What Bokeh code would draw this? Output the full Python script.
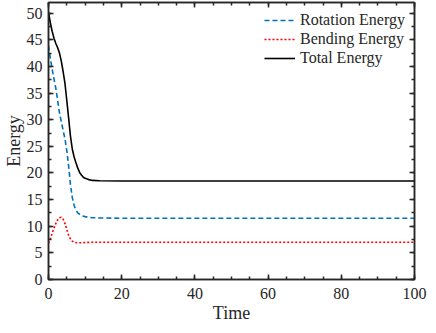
from bokeh.plotting import figure
from bokeh.models import FixedTicker, LinearAxis, Range1d
from bokeh.embed import file_html
from bokeh.resources import INLINE

# ---- data ----
t_rot = [0, 0.5, 1, 1.5, 2, 2.5, 3, 3.5, 4, 4.5, 5, 5.5, 6, 6.5, 7, 7.5, 8, 9, 10, 11, 12, 14, 20, 40, 60, 80, 100]
rotation = [43.9, 41.5, 39.5, 37.6, 35.9, 33.6, 31.3, 29.6, 28.0, 26.4, 24.2, 21.3, 17.8, 15.4, 13.9, 13.0, 12.5, 12.0, 11.8, 11.65, 11.6, 11.55, 11.5, 11.5, 11.5, 11.5, 11.5]

t_bend = [0, 0.5, 1, 1.5, 2, 2.5, 3, 3.5, 4, 4.5, 5, 5.5, 6, 6.5, 7, 8, 9, 10, 12, 20, 40, 60, 80, 100]
bending = [6.8, 7.6, 8.7, 9.6, 10.5, 11.2, 11.6, 11.7, 11.3, 10.5, 9.4, 8.3, 7.6, 7.2, 6.95, 6.9, 6.9, 6.95, 7.0, 7.0, 7.0, 7.0, 7.0, 7.0]

t_tot = [0, 0.5, 1, 1.5, 2, 2.5, 3, 3.5, 4, 4.5, 5, 5.5, 6, 6.5, 7, 7.5, 8, 8.5, 9, 9.5, 10, 11, 12, 14, 20, 40, 60, 80, 100]
total = [50.2, 48.2, 46.6, 45.3, 44.3, 43.5, 42.5, 41.0, 39.0, 36.8, 33.6, 30.3, 26.9, 24.5, 23.0, 21.9, 20.9, 20.1, 19.6, 19.2, 19.0, 18.75, 18.6, 18.55, 18.5, 18.5, 18.5, 18.5, 18.5]

x_major = [0, 20, 40, 60, 80, 100]
x_minor = list(range(0, 101, 5))
y_major = list(range(0, 51, 5))
y_minor = [i * 2.5 for i in range(21)]

FONT = "Liberation Serif"
AX = "#262626"

p = figure(width=428, height=325, x_range=Range1d(0, 100), y_range=Range1d(0, 52),
           output_backend="svg", toolbar_location=None,
           min_border_left=0, min_border_right=14, min_border_top=2, min_border_bottom=44,
           x_axis_label="Time", y_axis_label="Energy")
p.xgrid.grid_line_color = None
p.ygrid.grid_line_color = None
p.outline_line_color = AX
p.outline_line_width = 1.5
p.background_fill_color = "white"

p.line(t_rot, rotation, line_color="#0072BD", line_width=1.6, line_dash="5 3", legend_label="Rotation Energy")
p.line(t_bend, bending, line_color="#FF0000", line_width=1.6, line_dash="2 2", legend_label="Bending Energy")
p.line(t_tot, total, line_color="black", line_width=1.6, legend_label="Total Energy")

xt = FixedTicker(ticks=x_major, minor_ticks=x_minor)
yt = FixedTicker(ticks=y_major, minor_ticks=y_minor)

bottom = p.below[0]
left = p.left[0]
bottom.ticker = xt
left.ticker = yt
top = LinearAxis(ticker=xt, major_label_standoff=0,
                 major_label_overrides={v: "" for v in x_major})
right = LinearAxis(ticker=yt, major_label_standoff=0,
                   major_label_overrides={v: "" for v in y_major})
p.add_layout(top, "above")
p.add_layout(right, "right")

for ax in (bottom, left, top, right):
    ax.axis_line_color = AX
    ax.axis_line_width = 1.5
    ax.major_tick_line_color = AX
    ax.minor_tick_line_color = AX
    ax.major_tick_line_width = 1.5
    ax.minor_tick_line_width = 1.5
    ax.major_tick_in = 5
    ax.major_tick_out = 0
    ax.minor_tick_in = 3
    ax.minor_tick_out = 0
    ax.major_label_text_font = FONT
    ax.major_label_text_color = AX
    ax.major_label_text_font_size = "16px"

top.major_label_text_font_size = "1px"
right.major_label_text_font_size = "1px"

bottom.major_label_standoff = 8
bottom.axis_label_text_font = FONT
bottom.axis_label_text_font_size = "18px"
bottom.axis_label_text_font_style = "normal"
bottom.axis_label_text_color = AX
bottom.axis_label_standoff = 1

left.major_label_standoff = 6
left.axis_label_text_font = FONT
left.axis_label_text_font_size = "18px"
left.axis_label_text_font_style = "normal"
left.axis_label_text_color = AX
left.axis_label_standoff = 0

lg = p.legend[0]
lg.location = "top_right"
lg.border_line_color = None
lg.background_fill_alpha = 0
lg.label_text_font = FONT
lg.label_text_font_size = "16px"
lg.label_text_color = AX
lg.glyph_width = 31
lg.glyph_height = 18
lg.label_height = 18
lg.spacing = 1
lg.label_standoff = 5
lg.margin = 9
lg.padding = 9

open("out.html", "w").write(file_html(p, INLINE))
